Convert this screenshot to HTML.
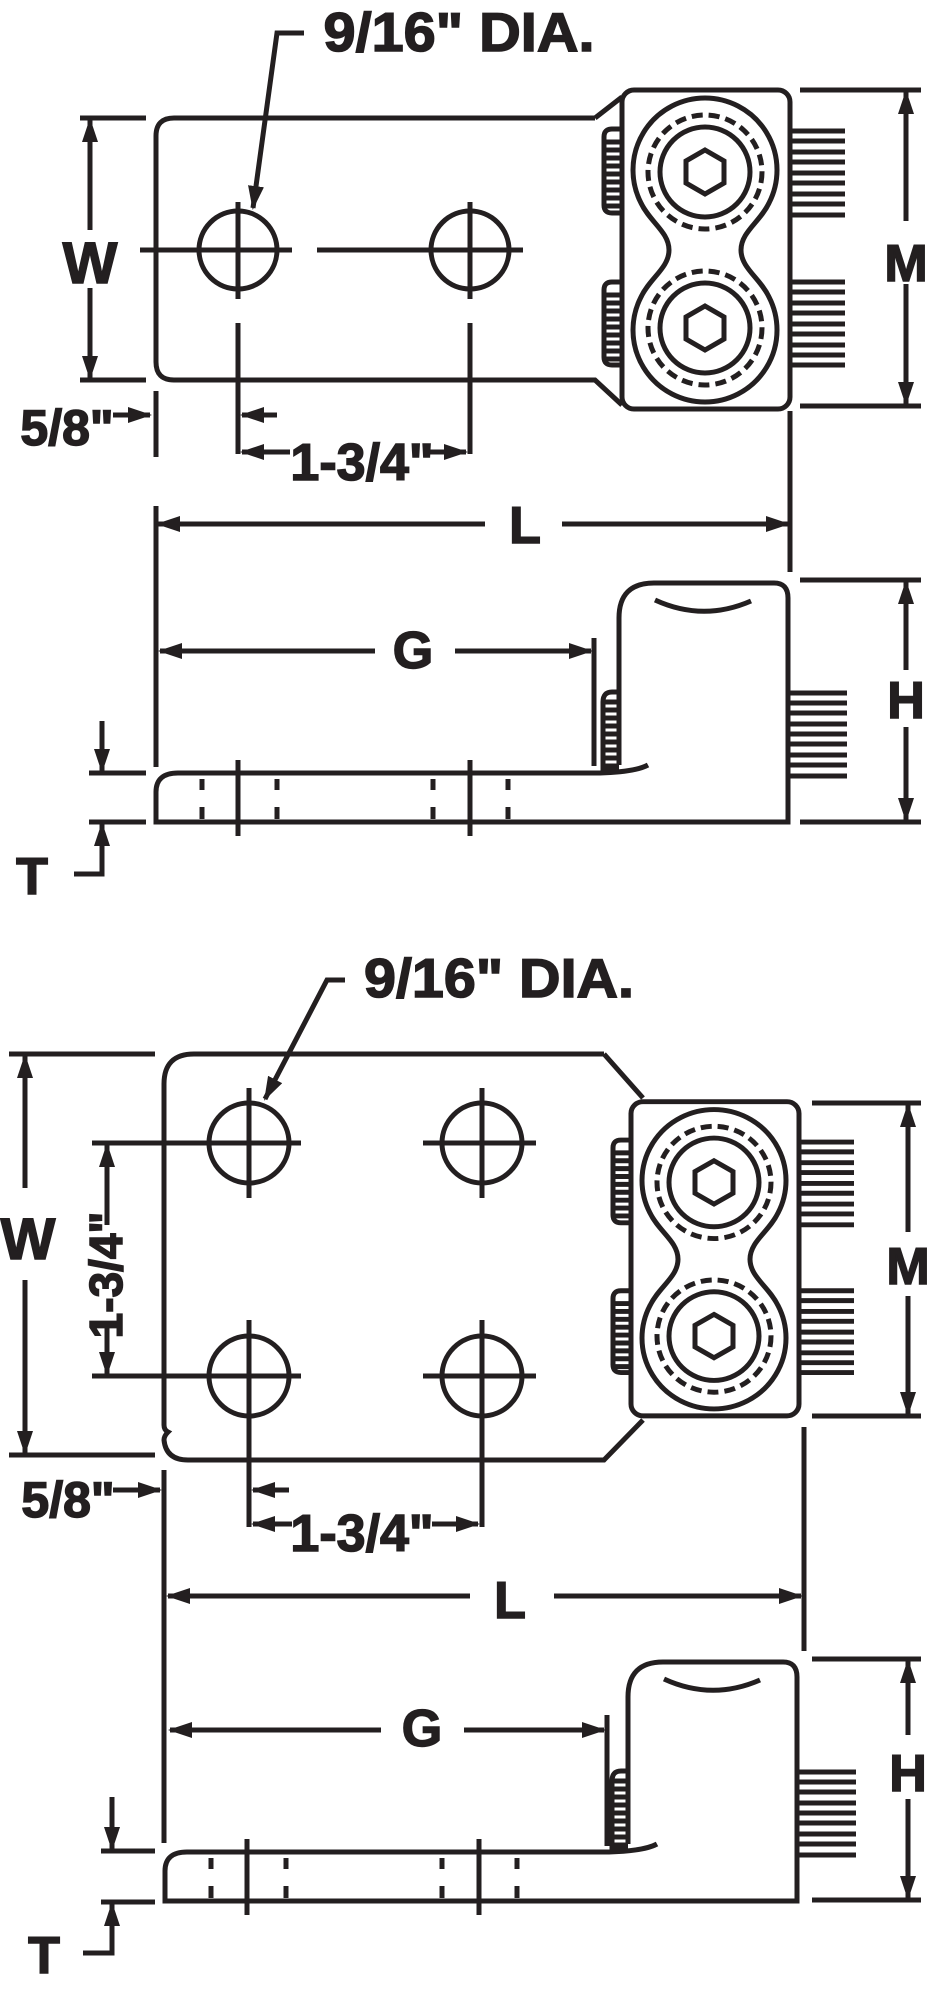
<!DOCTYPE html>
<html><head><meta charset="utf-8"><style>
html,body{margin:0;padding:0;background:#fff;}
svg{display:block;}
.s{fill:none;stroke:#231f20;stroke-width:5;}
.t{font-family:"Liberation Sans",Arial,sans-serif;font-weight:bold;fill:#231f20;stroke:#231f20;stroke-width:1.5;text-anchor:middle;}
</style></head><body>
<svg width="932" height="2000" viewBox="0 0 932 2000" xmlns="http://www.w3.org/2000/svg">
<defs>
<marker id="a" markerWidth="24" markerHeight="16" refX="22" refY="8" orient="auto" markerUnits="userSpaceOnUse"><path d="M0,0 L24,8 L0,16 z" fill="#231f20"/></marker>
<g id="conn">
<rect class="s" x="622" y="90" width="168" height="319" rx="12"/>
<path class="s" d="M669 250 C669 232 650 222 641 203 A72 72 0 1 1 769 203 C760 222 741 232 741 250 C741 268 760 278 769 297 A72 72 0 1 1 641 297 C650 278 669 268 669 250 Z"/>
<circle class="s" cx="705" cy="172" r="57" stroke-dasharray="11 6"/>
<circle class="s" cx="705" cy="328" r="57" stroke-dasharray="11 6"/>
<circle class="s" cx="705" cy="172" r="45"/>
<circle class="s" cx="705" cy="328" r="45"/>
<polygon class="s" stroke-width="4" points="705,150 724,161 724,183 705,194 686,183 686,161"/>
<polygon class="s" stroke-width="4" points="705,306 724,317 724,339 705,350 686,339 686,317"/>
<path class="s" d="M622 129 L612 129 Q604 129 604 137 L604 205 Q604 213 612 213 L622 213"/>
<path class="s" d="M622 282 L612 282 Q604 282 604 290 L604 357 Q604 365 612 365 L622 365"/>
<path class="s" stroke-width="3" d="M606 142H622M606 150H622M606 158H622M606 166H622M606 174H622M606 182H622M606 190H622M606 198H622M606 206H622M606 295H622M606 303H622M606 311H622M606 319H622M606 327H622M606 335H622M606 343H622M606 351H622M606 359H622"/>
<path class="s" d="M792 131H845M792 141H845M792 152H845M792 162H845M792 173H845M792 183H845M792 194H845M792 204H845M792 215H845M792 282H845M792 292H845M792 303H845M792 313H845M792 324H845M792 334H845M792 345H845M792 355H845M792 365H845"/>
</g>
<g id="side">
<path class="s" d="M619 765 L619 618 Q619 583 654 583 L774 583 Q788 583 788 598 L788 822 L156 822 L156 792 Q156 773 178 773 L600 773 Q635 772 648 765"/>
<path class="s" d="M655 600 Q703 622 751 601"/>
<path class="s" d="M619 692 L612 692 Q603 692 603 702 L603 770 L619 770"/>
<path class="s" stroke-width="3" d="M605 702H619M605 710H619M605 718H619M605 726H619M605 734H619M605 742H619M605 750H619M605 758H619M605 766H619"/>
<path class="s" d="M790 693H847M790 703H847M790 713H847M790 724H847M790 734H847M790 744H847M790 755H847M790 765H847M790 776H847"/>
<path class="s" d="M238 760V836M470 760V836M202 779V790M202 807V819M277 779V790M277 807V819M433 779V790M433 807V819M508 779V790M508 807V819"/>
</g>
</defs>

<!-- TOP -->
<text class="t" x="459" y="51" font-size="55" textLength="271" lengthAdjust="spacingAndGlyphs">9/16" DIA.</text>
<polyline class="s" points="304,33 277,33 253,208" marker-end="url(#a)"/>
<path class="s" d="M595 118 L174 118 Q156 118 156 136 L156 362 Q156 380 174 380 L595 380 L622 405 M595 118 L622 97"/>
<use href="#conn"/>
<ellipse class="s" cx="238" cy="250" rx="39" ry="39"/>
<ellipse class="s" cx="470" cy="250" rx="39" ry="39"/>
<path class="s" d="M140 250H292M317 250H523M238 202V299M238 323V454M470 202V299M470 323V454"/>
<path class="s" d="M80 118H146M80 380H146"/>
<line class="s" x1="90" y1="230" x2="90" y2="120" marker-end="url(#a)"/>
<line class="s" x1="90" y1="288" x2="90" y2="378" marker-end="url(#a)"/>
<text class="t" x="90" y="283" font-size="58">W</text>
<text class="t" x="67" y="445" font-size="50">5/8"</text>
<line class="s" x1="113" y1="415" x2="150" y2="415" marker-end="url(#a)"/>
<line class="s" x1="156" y1="391" x2="156" y2="457"/>
<line class="s" x1="277" y1="415" x2="242" y2="415" marker-end="url(#a)"/>
<line class="s" x1="290" y1="452" x2="242" y2="452" marker-end="url(#a)"/>
<line class="s" x1="430" y1="452" x2="466" y2="452" marker-end="url(#a)"/>
<text class="t" x="362" y="480" font-size="52">1-3/4"</text>
<line class="s" x1="156" y1="506" x2="156" y2="767"/>
<line class="s" x1="790" y1="411" x2="790" y2="572"/>
<line class="s" x1="485" y1="524" x2="158" y2="524" marker-end="url(#a)"/>
<line class="s" x1="562" y1="524" x2="788" y2="524" marker-end="url(#a)"/>
<text class="t" x="525" y="543" font-size="52">L</text>
<path class="s" d="M800 90H921M800 406H921"/>
<line class="s" x1="906" y1="221" x2="906" y2="92" marker-end="url(#a)"/>
<line class="s" x1="906" y1="284" x2="906" y2="404" marker-end="url(#a)"/>
<text class="t" x="906" y="281" font-size="52">M</text>
<use href="#side"/>
<line class="s" x1="594" y1="638" x2="594" y2="766"/>
<line class="s" x1="375" y1="651" x2="160" y2="651" marker-end="url(#a)"/>
<line class="s" x1="455" y1="651" x2="591" y2="651" marker-end="url(#a)"/>
<text class="t" x="413" y="668" font-size="52">G</text>
<path class="s" d="M800 580H921M800 822H921"/>
<line class="s" x1="906" y1="670" x2="906" y2="582" marker-end="url(#a)"/>
<line class="s" x1="906" y1="727" x2="906" y2="820" marker-end="url(#a)"/>
<text class="t" x="906" y="718" font-size="52">H</text>
<path class="s" d="M89 773H146M89 822H146"/>
<line class="s" x1="102" y1="721" x2="102" y2="771" marker-end="url(#a)"/>
<polyline class="s" points="74,874 102,874 102,824" marker-end="url(#a)"/>
<text class="t" x="32" y="894" font-size="52">T</text>

<!-- BOTTOM -->
<text class="t" x="499" y="997" font-size="55" textLength="270" lengthAdjust="spacingAndGlyphs">9/16" DIA.</text>
<polyline class="s" points="345,980 327,980 265,1099" marker-end="url(#a)"/>
<path class="s" d="M604 1054 L194 1054 Q164 1054 164 1084 L164 1425 Q164 1430 168 1432 Q164 1436 164 1440 Q166 1460 188 1460 L604 1460 L643 1420 M604 1054 L643 1098"/>
<use href="#conn" transform="translate(9,1013) scale(1,0.985)"/>
<ellipse class="s" cx="249" cy="1143" rx="40" ry="40"/>
<ellipse class="s" cx="482" cy="1143" rx="40" ry="40"/>
<ellipse class="s" cx="249" cy="1376" rx="40" ry="40"/>
<ellipse class="s" cx="482" cy="1376" rx="40" ry="40"/>
<path class="s" d="M92 1143H301M423 1143H536M92 1376H301M423 1376H536M249 1088V1198M482 1088V1198M249 1320V1527M482 1320V1527"/>
<line class="s" x1="107" y1="1225" x2="107" y2="1145" marker-end="url(#a)"/>
<line class="s" x1="107" y1="1325" x2="107" y2="1374" marker-end="url(#a)"/>
<text class="t" x="0" y="0" font-size="46" transform="translate(122,1275) rotate(-90)">1-3/4"</text>
<path class="s" d="M9 1054H155M9 1455H155"/>
<line class="s" x1="25" y1="1188" x2="25" y2="1056" marker-end="url(#a)"/>
<line class="s" x1="25" y1="1280" x2="25" y2="1453" marker-end="url(#a)"/>
<text class="t" x="28" y="1259" font-size="58">W</text>
<text class="t" x="68" y="1517" font-size="50">5/8"</text>
<line class="s" x1="113" y1="1490" x2="160" y2="1490" marker-end="url(#a)"/>
<line class="s" x1="164" y1="1470" x2="164" y2="1843"/>
<line class="s" x1="289" y1="1490" x2="253" y2="1490" marker-end="url(#a)"/>
<line class="s" x1="292" y1="1524" x2="253" y2="1524" marker-end="url(#a)"/>
<line class="s" x1="432" y1="1524" x2="478" y2="1524" marker-end="url(#a)"/>
<text class="t" x="362" y="1551" font-size="52">1-3/4"</text>
<line class="s" x1="804" y1="1427" x2="804" y2="1651"/>
<line class="s" x1="470" y1="1596" x2="168" y2="1596" marker-end="url(#a)"/>
<line class="s" x1="554" y1="1596" x2="801" y2="1596" marker-end="url(#a)"/>
<text class="t" x="510" y="1618" font-size="52">L</text>
<path class="s" d="M812 1103H921M812 1416H921"/>
<line class="s" x1="908" y1="1232" x2="908" y2="1105" marker-end="url(#a)"/>
<line class="s" x1="908" y1="1296" x2="908" y2="1414" marker-end="url(#a)"/>
<text class="t" x="908" y="1284" font-size="52">M</text>
<use href="#side" transform="translate(9,1079)"/>
<line class="s" x1="607" y1="1715" x2="607" y2="1846"/>
<line class="s" x1="381" y1="1730" x2="170" y2="1730" marker-end="url(#a)"/>
<line class="s" x1="464" y1="1730" x2="604" y2="1730" marker-end="url(#a)"/>
<text class="t" x="422" y="1746" font-size="52">G</text>
<path class="s" d="M812 1659H921M812 1900H921"/>
<line class="s" x1="908" y1="1735" x2="908" y2="1661" marker-end="url(#a)"/>
<line class="s" x1="908" y1="1799" x2="908" y2="1898" marker-end="url(#a)"/>
<text class="t" x="908" y="1791" font-size="52">H</text>
<path class="s" d="M101 1851H155M101 1902H155"/>
<line class="s" x1="112" y1="1797" x2="112" y2="1849" marker-end="url(#a)"/>
<polyline class="s" points="83,1953 112,1953 112,1904" marker-end="url(#a)"/>
<text class="t" x="44" y="1973" font-size="52">T</text>
</svg>
</body></html>
